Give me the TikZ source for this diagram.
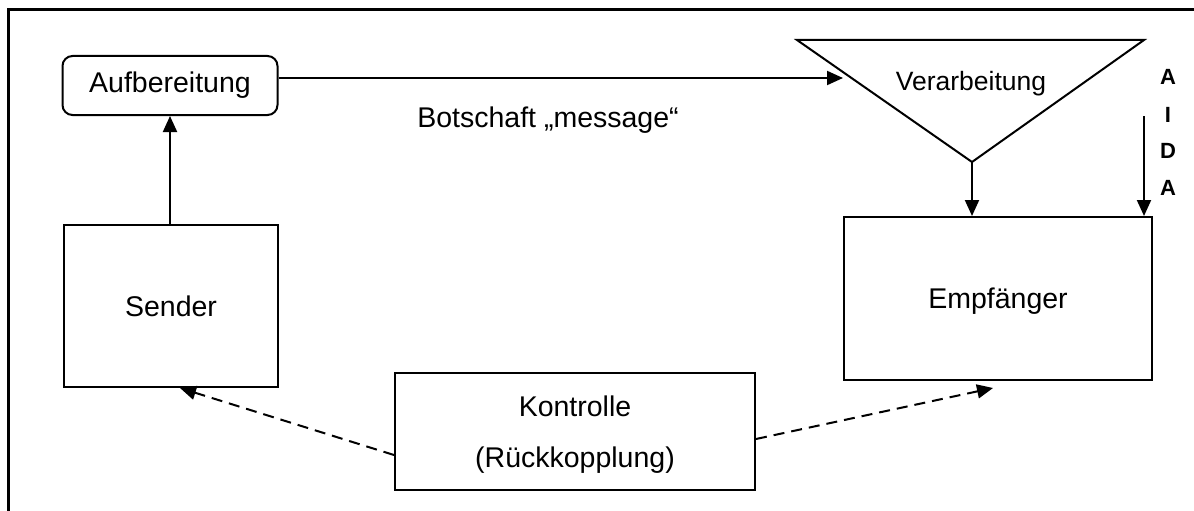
\documentclass[tikz,border=0pt]{standalone}
\usepackage{fontspec}
\setmainfont{Liberation Sans}
\usetikzlibrary{arrows.meta}
\begin{document}
\begin{tikzpicture}[x=1pt,y=-1pt,
  box/.style={draw,line width=2pt,inner sep=0pt,font=\fontsize{28.5}{34}\selectfont},
  arr/.style={line width=2pt,-{Triangle[length=16pt,width=14pt]}},
  darr/.style={arr,dash pattern=on 11pt off 7pt},
  aida/.style={font=\fontsize{22}{25}\selectfont\bfseries}]
\useasboundingbox (0,0) rectangle (1194,511);
\draw[line width=3pt] (8,511) -- (8,10) -- (1194,10);
\node[box,rounded corners=10pt,minimum width=215pt,minimum height=59pt] (auf) at (170,85.5) {Aufbereitung};
\node[box,minimum width=214pt,minimum height=162pt] (send) at (171,306) {Sender};
\node[box,minimum width=308pt,minimum height=163pt,text depth=0pt] (emp) at (998,298.5) {Empfänger};
\node[box,minimum width=360pt,minimum height=117pt,align=center,text depth=0pt] (kon) at (575,431.5) {Kontrolle\\[17pt](Rückkopplung)};
\draw[line width=2pt,line join=miter] (797,40) coordinate (tl) -- (1144,40) coordinate (tr) -- (972,162) coordinate (apex) -- cycle;
\node[font=\fontsize{26.5}{30}\selectfont] (ver) at (971,84) {Verarbeitung};
\node[font=\fontsize{28.5}{34}\selectfont] (bot) at (548,120) {Botschaft „message“};
\coordinate (tin) at (843,78);
\draw[arr] (auf.east |- tin) -- (tin);
\draw[arr] (send.north -| auf.south) -- (auf.south);
\draw[arr] (apex) -- (apex |- emp.north);
\coordinate (aidatop) at (1144,116);
\draw[arr] (aidatop) -- (aidatop |- emp.north);
\node[aida] (a1) at (1168,77) {A};
\node[aida] (i1) at (1168,115) {I};
\node[aida] (d1) at (1168,151) {D};
\node[aida] (a2) at (1168,188) {A};
\coordinate (lt) at (180,388);
\coordinate (rt) at (993,388);
\draw[darr] (kon.west |- 0,455) -- (lt);
\draw[darr] (kon.east |- 0,439) -- (rt);
\end{tikzpicture}
\end{document}
